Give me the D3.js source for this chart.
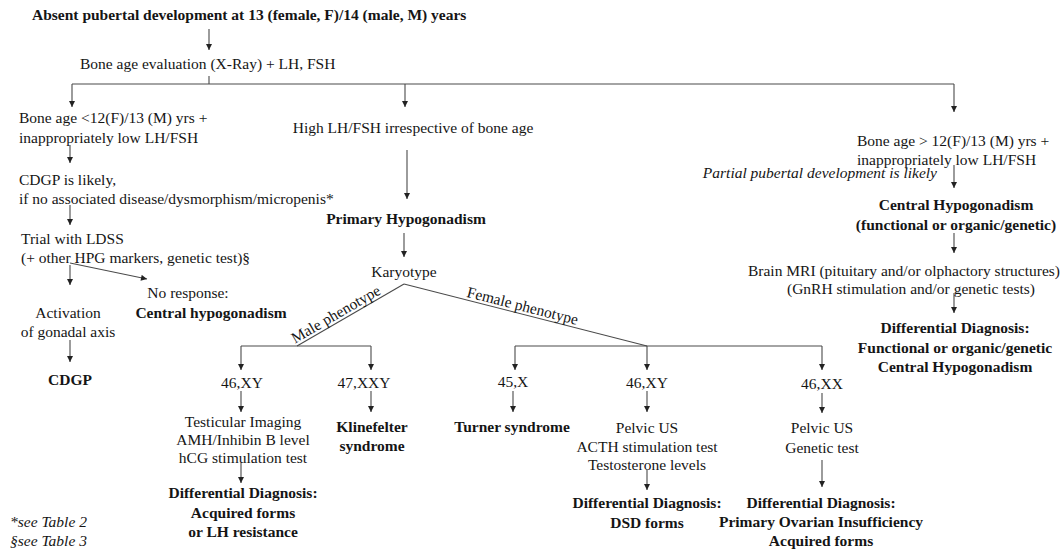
<!DOCTYPE html>
<html>
<head>
<meta charset="utf-8">
<script src="https://cdn.jsdelivr.net/npm/d3@7"></script>
<style>
  html, body { margin: 0; padding: 0; background: #fff; }
  svg { display: block; }
</style>
</head>
<body>
<div id="viz"></div>
<script>
// ---- Text content of the flow chart ----
const TEXTS = [
  { id: 'title', lines: ['Absent pubertal development at 13 (female, F)/14 (male, M) years'], bold: true },
  { id: 'boneEval', lines: ['Bone age evaluation (X-Ray) + LH, FSH'] },
  { id: 'lowLeft', lines: ['Bone age <12(F)/13 (M) yrs +', 'inappropriately low LH/FSH'] },
  { id: 'cdgpLikely', lines: ['CDGP is likely,', 'if no associated disease/dysmorphism/micropenis*'] },
  { id: 'ldss', lines: ['Trial with LDSS', '(+ other HPG markers, genetic test)§'] },
  { id: 'activation', lines: ['Activation', 'of gonadal axis'] },
  { id: 'noResp', lines: ['No response:'] },
  { id: 'centralHypo', lines: ['Central hypogonadism'], bold: true },
  { id: 'cdgp', lines: ['CDGP'], bold: true },
  { id: 'highLH', lines: ['High LH/FSH irrespective of bone age'] },
  { id: 'primary', lines: ['Primary Hypogonadism'], bold: true },
  { id: 'karyo', lines: ['Karyotype'] },
  { id: 'k46xyM', lines: ['46,XY'] },
  { id: 'k47xxy', lines: ['47,XXY'] },
  { id: 'k45x', lines: ['45,X'] },
  { id: 'k46xyF', lines: ['46,XY'] },
  { id: 'k46xx', lines: ['46,XX'] },
  { id: 'testic', lines: ['Testicular Imaging', 'AMH/Inhibin B level', 'hCG stimulation test'] },
  { id: 'ddAcq', lines: ['Differential Diagnosis:', 'Acquired forms', 'or LH resistance'], bold: true },
  { id: 'kline', lines: ['Klinefelter', 'syndrome'], bold: true },
  { id: 'turner', lines: ['Turner syndrome'], bold: true },
  { id: 'pelvic1', lines: ['Pelvic US', 'ACTH stimulation test', 'Testosterone levels'] },
  { id: 'ddDsd', lines: ['Differential Diagnosis:', 'DSD forms'], bold: true },
  { id: 'pelvic2', lines: ['Pelvic US', 'Genetic test'] },
  { id: 'ddPoi', lines: ['Differential Diagnosis:', 'Primary Ovarian Insufficiency', 'Acquired forms'], bold: true },
  { id: 'lowRight', lines: ['Bone age > 12(F)/13 (M) yrs +', 'inappropriately low LH/FSH'] },
  { id: 'partial', lines: ['Partial pubertal development is likely'], italic: true },
  { id: 'centralRight', lines: ['Central Hypogonadism', '(functional or organic/genetic)'], bold: true },
  { id: 'mri', lines: ['Brain MRI (pituitary and/or olphactory structures)'] },
  { id: 'gnrh', lines: ['(GnRH stimulation and/or genetic tests)'] },
  { id: 'ddRight', lines: ['Differential Diagnosis:', 'Functional or organic/genetic', 'Central Hypogonadism'], bold: true },
  { id: 'note1', lines: ['*see Table 2'], italic: true },
  { id: 'note2', lines: ['§see Table 3'], italic: true },
];

const BRANCH_LABELS = [
  { id: 'male', text: 'Male phenotype' },
  { id: 'female', text: 'Female phenotype' },
];

// ---- Layout (x, center y of first line, anchor, line step) ----
const LAYOUT = {
  title:        { x: 32,  y: 15,  a: 'start' },
  boneEval:     { x: 80,  y: 64,  a: 'start' },
  lowLeft:      { x: 19,  y: 118, a: 'start', lh: 20 },
  cdgpLikely:   { x: 19,  y: 180, a: 'start', lh: 19 },
  ldss:         { x: 21,  y: 239, a: 'start', lh: 19 },
  activation:   { x: 68,  y: 313, a: 'middle', lh: 19 },
  noResp:       { x: 188, y: 293, a: 'middle' },
  centralHypo:  { x: 211, y: 313, a: 'middle' },
  cdgp:         { x: 70,  y: 380, a: 'middle' },
  highLH:       { x: 413, y: 128, a: 'middle' },
  primary:      { x: 406, y: 219, a: 'middle' },
  karyo:        { x: 404, y: 272, a: 'middle' },
  k46xyM:       { x: 242, y: 383, a: 'middle' },
  k47xxy:       { x: 364, y: 383, a: 'middle' },
  k45x:         { x: 513, y: 382, a: 'middle' },
  k46xyF:       { x: 647, y: 383, a: 'middle' },
  k46xx:        { x: 822, y: 384, a: 'middle' },
  testic:       { x: 243, y: 422, a: 'middle', lh: 18 },
  ddAcq:        { x: 243, y: 493, a: 'middle', lh: 19.5 },
  kline:        { x: 372, y: 427, a: 'middle', lh: 18.5 },
  turner:       { x: 512, y: 427, a: 'middle' },
  pelvic1:      { x: 647, y: 428, a: 'middle', lh: 18.5 },
  ddDsd:        { x: 647, y: 503, a: 'middle', lh: 20 },
  pelvic2:      { x: 822, y: 428, a: 'middle', lh: 20 },
  ddPoi:        { x: 821, y: 503, a: 'middle', lh: 19 },
  lowRight:     { x: 857, y: 141, a: 'start', lh: 18.5 },
  partial:      { x: 937, y: 173, a: 'end' },
  centralRight: { x: 956, y: 205, a: 'middle', lh: 20 },
  mri:          { x: 904, y: 271, a: 'middle' },
  gnrh:         { x: 911, y: 289, a: 'middle' },
  ddRight:      { x: 955, y: 328, a: 'middle', lh: 19.5 },
  note1:        { x: 10,  y: 522, a: 'start' },
  note2:        { x: 10,  y: 541, a: 'start' },
};

// plain connector lines [x1, y1, x2, y2]
const LINES = [
  [209, 76, 209, 84],
  [72, 84, 954, 84],
  [404, 284, 297, 346],
  [404, 284, 647, 346],
  [241, 346, 371, 346],
  [515, 346, 822, 346],
];

// arrows [x1, y1, x2, y2] (tip at x2, y2)
const ARROWS = [
  [209, 29, 209, 50],
  [72, 84, 72, 107], [405, 84, 405, 107], [954, 84, 954, 112],
  [70, 145, 70, 163], [70, 205, 70, 225], [70, 265, 70, 285], [70, 263, 147, 279],
  [70, 340, 70, 362],
  [407, 150, 407, 199], [404, 233, 404, 257],
  [954, 165, 954, 188], [954, 233, 954, 253], [954, 293, 954, 313],
  [241, 346, 241, 370], [371, 346, 371, 370], [515, 346, 515, 370], [647, 346, 647, 370], [822, 346, 822, 370],
  [241, 391, 241, 412], [371, 391, 371, 412], [513, 391, 513, 412], [647, 391, 647, 412], [822, 393, 822, 413],
  [241, 463, 241, 483], [647, 470, 647, 490], [822, 460, 822, 487],
];

// which connector carries which branch label, and where along it (0..1 from apex)
const LABEL_POS = {
  male:   { line: 2, t: 0.6 },
  female: { line: 3, t: 0.48 },
};

const W = 1062, H = 551;
const FONT = '"Liberation Serif", "Times New Roman", "DejaVu Serif", serif';
const FS = 15.5;
const INK = '#151515';
const STROKE = '#4a4a4a';

const svg = d3.select('#viz').append('svg')
  .attr('width', W).attr('height', H)
  .attr('viewBox', `0 0 ${W} ${H}`)
  .style('background', '#fff');

svg.append('defs').append('marker')
  .attr('id', 'tip')
  .attr('viewBox', '0 0 10 10')
  .attr('refX', 10).attr('refY', 5)
  .attr('markerUnits', 'userSpaceOnUse')
  .attr('markerWidth', 7).attr('markerHeight', 6)
  .attr('orient', 'auto')
  .append('path').attr('d', 'M0,0 L10,5 L0,10 z').attr('fill', '#222');

const gLines = svg.append('g').attr('data-layer', 'lines');
gLines.selectAll('line.conn').data(LINES).join('line')
  .attr('class', 'conn')
  .attr('x1', d => d[0]).attr('y1', d => d[1]).attr('x2', d => d[2]).attr('y2', d => d[3])
  .attr('stroke', STROKE).attr('stroke-width', 1.1);

gLines.selectAll('line.arrow').data(ARROWS).join('line')
  .attr('class', 'arrow')
  .attr('x1', d => d[0]).attr('y1', d => d[1]).attr('x2', d => d[2]).attr('y2', d => d[3])
  .attr('stroke', STROKE).attr('stroke-width', 1.1)
  .attr('marker-end', 'url(#tip)');

// text blocks
const gText = svg.append('g').attr('data-layer', 'text')
  .style('font-family', FONT).style('font-size', `${FS}px`).attr('fill', INK);

const blocks = gText.selectAll('text.node').data(TEXTS).join('text')
  .attr('class', 'node')
  .attr('text-anchor', d => LAYOUT[d.id].a)
  .style('font-weight', d => d.bold ? 700 : 400)
  .style('font-style', d => d.italic ? 'italic' : 'normal');

blocks.selectAll('tspan').data(d => d.lines.map((s, i) => ({ s, i, p: LAYOUT[d.id] }))).join('tspan')
  .attr('x', d => d.p.x)
  .attr('y', d => d.p.y + 5 + d.i * (d.p.lh ?? 19))
  .text(d => d.s);

// branch labels along the diagonals
gText.selectAll('text.branch').data(BRANCH_LABELS).join('text')
  .attr('class', 'branch')
  .attr('text-anchor', 'middle')
  .attr('transform', d => {
    const { line, t } = LABEL_POS[d.id];
    const [x1, y1, x2, y2] = LINES[line];
    const x = x1 + (x2 - x1) * t, y = y1 + (y2 - y1) * t;
    let ang = Math.atan2(y2 - y1, x2 - x1) * 180 / Math.PI;
    if (ang > 90) ang -= 180;
    if (ang < -90) ang += 180;
    return `translate(${x},${y}) rotate(${ang}) translate(0,-3)`;
  })
  .text(d => d.text);
</script>
</body>
</html>
